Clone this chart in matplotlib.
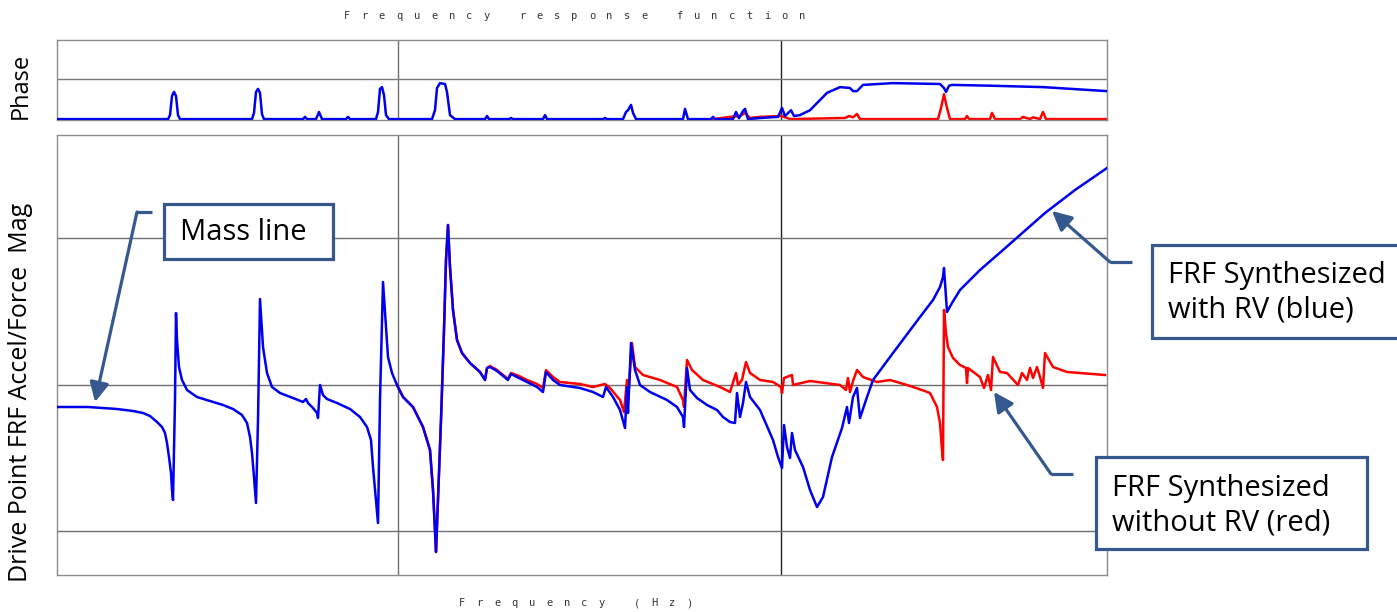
import matplotlib
matplotlib.use('Agg')
import matplotlib.pyplot as plt
from matplotlib.patches import Rectangle, FancyArrowPatch
from matplotlib.lines import Line2D

# frequency axis in Hz (arbitrary span 0..1050), magnitude/phase
# blue = FRF synthesized with RV, red = without RV
# (freq, value) pairs

mag_blue_pts = [
    (0, -22), (31, -22), (60, -24), (76, -26), (86, -28), (93, -31), (100, -37), (105, -42), (108, -48),
    (110, -58), (112, -72), (114, -88), (115, -105), (116, -115), (118, -15), (119, 72), (120, 45), (122, 18),
    (125, 5), (130, -5), (140, -12), (153, -16), (166, -20), (176, -24), (185, -30), (190, -38), (193, -52),
    (195, -68), (197, -92), (199, -118), (201, -35), (203, 86), (206, 38), (210, 12), (215, -2), (223, -8),
    (236, -13), (246, -17), (249, -14), (251, -18), (256, -23), (260, -28), (261, -33), (263, 0), (266, -10),
    (270, -14), (280, -18), (293, -24), (303, -32), (310, -42), (314, -55), (316, -82), (319, -115),
    (321, -138), (323, -15), (326, 103), (329, 58), (331, 28), (335, 12), (340, 0), (346, -12), (356, -22),
    (361, -32), (366, -42), (373, -65), (376, -105), (378, -145), (379, -167), (381, -115), (384, -35),
    (387, 55), (389, 125), (391, 160), (393, 118), (396, 75), (400, 45), (405, 32), (413, 22), (423, 13),
    (428, 5), (430, 17), (433, 18), (440, 14), (451, 5), (454, 11), (462, 7), (470, 3), (480, -2), (486, -7),
    (489, 13), (496, 5), (503, 0), (523, -3), (536, -7), (546, -12), (549, -2), (556, -12), (563, -25),
    (568, -43), (570, -2), (571, -28), (574, 42), (578, 15), (583, 0), (593, -7), (610, -15), (620, -22),
    (626, -32), (627, -42), (630, 17), (633, -5), (640, -13), (650, -20), (660, -25), (666, -32), (673, -37),
    (678, -38), (680, -8), (683, -32), (686, -18), (689, 3), (693, -12), (703, -25), (716, -55), (721, -72),
    (725, -83), (727, -40), (730, -62), (733, -73), (735, -48), (738, -65), (746, -82), (753, -105),
    (760, -122), (766, -112), (775, -72), (785, -43), (790, -22), (792, -38), (796, -12), (800, -3),
    (803, -33), (810, -12), (816, 5), (836, 32), (863, 68), (876, 85), (883, 98), (886, 108), (887, 117),
    (889, 88), (890, 73), (895, 82), (903, 95), (923, 115), (946, 135), (988, 172), (1018, 195), (1050, 217),
]

mag_red_pts = [
    (340, 0), (346, -12), (356, -22), (361, -32), (366, -42), (373, -65), (376, -105), (378, -145),
    (379, -167), (381, -115), (384, -35), (387, 55), (389, 125), (391, 160), (393, 118), (396, 75), (400, 45),
    (405, 32), (413, 22), (423, 13), (428, 5), (430, 17), (433, 19), (440, 15), (451, 6), (454, 12), (462, 9),
    (470, 5), (480, 1), (486, -3), (489, 15), (496, 8), (503, 3), (523, 1), (536, -2), (548, 1), (553, -3),
    (563, -15), (567, -27), (570, 5), (571, -15), (575, 42), (578, 18), (586, 10), (603, 5), (620, -2),
    (626, -15), (627, -22), (630, 25), (635, 15), (646, 5), (663, -2), (673, -7), (679, 12), (681, 0),
    (685, 5), (689, 23), (693, 12), (703, 5), (716, 3), (724, -2), (725, -8), (727, 7), (735, 10), (736, 0),
    (753, 4), (783, 0), (789, -5), (791, 7), (793, -7), (796, 4), (800, 15), (806, 8), (820, 3), (833, 5),
    (850, 0), (865, -5), (873, -8), (880, -22), (883, -38), (885, -65), (886, -75), (887, 75), (889, 52),
    (891, 38), (896, 27), (903, 20), (909, 17), (910, 2), (911, 17), (923, 8), (927, -3), (931, 10),
    (934, -5), (936, 28), (943, 13), (950, 12), (961, 0), (965, 12), (970, 5), (973, 17), (976, 7), (980, 18),
    (983, 8), (986, -3), (988, 32), (996, 18), (1010, 13), (1048, 10),
]

# phase in degrees
ph_blue_pts = [
    (0, 2), (111, 2), (113, 11), (115, 54), (117, 63), (119, 54), (121, 11), (123, 2), (195, 2), (197, 16),
    (199, 63), (201, 70), (203, 61), (205, 13), (207, 2), (246, 2), (248, 7), (250, 2), (259, 2), (262, 18),
    (265, 2), (289, 2), (291, 7), (293, 2), (319, 2), (321, 18), (323, 70), (325, 74), (327, 56), (329, 11),
    (332, 2), (375, 2), (378, 22), (380, 72), (383, 83), (388, 81), (390, 63), (393, 11), (398, 2), (428, 2),
    (430, 9), (432, 2), (452, 2), (454, 4.5), (456, 2), (486, 2), (488, 11), (490, 2), (546, 2), (548, 4.5),
    (550, 2), (566, 2), (569, 18), (571, 22), (574, 34), (576, 16), (579, 2), (626, 2), (628, 25), (631, 2),
    (654, 2), (656, 7), (658, 2), (676, 2), (679, 18), (682, 4), (686, 20), (688, 25), (691, 2), (703, 4.5),
    (721, 7), (725, 27), (728, 9), (734, 22), (737, 9), (743, 11), (753, 22), (770, 61), (783, 74), (793, 72),
    (796, 65), (800, 65), (806, 79), (836, 83), (883, 81), (887, 72), (889, 63), (892, 77), (895, 79),
    (936, 77), (986, 74), (1050, 65),
]

ph_red_pts = [
    (656, 2), (673, 7), (683, 9), (688, 16), (693, 4.5), (703, 7), (725, 9), (733, 2), (788, 4.5), (792, 9),
    (796, 6), (800, 13.5), (803, 2), (881, 2), (884, 27), (887, 58), (890, 27), (893, 2), (908, 2), (910, 9),
    (912, 2), (933, 2), (935, 16), (938, 2), (963, 2), (966, 7), (973, 2), (976, 6), (983, 2), (986, 18),
    (989, 2), (1050, 2),
]

mag_grid = [-146, 0, 147]
phase_grid = 92
freq_grid = [341, 724]

title_txt = 'Frequency response function'
xlabel_txt = 'Frequency (Hz)'
W, H = 1397, 612


def fx(px):
    return px / W


def fy(py):
    return 1 - py / H


fig = plt.figure(figsize=(W / 100, H / 100), dpi=100)
ax_ph = fig.add_axes([fx(57), fy(120), 1050 / W, 80 / H])
ax_mag = fig.add_axes([fx(57), fy(575), 1050 / W, 440 / H])

for ax in (ax_ph, ax_mag):
    ax.set_xlim(0, 1050)
    ax.set_xticks([])
    ax.set_yticks([])
    for s in ax.spines.values():
        s.set_color('#8c8c8c')
        s.set_linewidth(1.0)
    ax.axvline(freq_grid[0], color='#6e6e6e', lw=1.0, zorder=1)
    ax.axvline(freq_grid[1], color='#222222', lw=1.0, zorder=1)

ax_ph.set_ylim(0, 180)
ax_ph.axhline(phase_grid, color='#7a7a7a', lw=1.0, zorder=1)
ax_ph.plot(*zip(*ph_red_pts), color='#ff0000', lw=1.8, zorder=2)
ax_ph.plot(*zip(*ph_blue_pts), color='#0000ee', lw=1.8, zorder=3)

ax_mag.set_ylim(-190, 250)
for g in mag_grid:
    ax_mag.axhline(g, color='#6e6e6e', lw=1.0, zorder=1)
ax_mag.plot(*zip(*mag_red_pts), color='#ff0000', lw=1.8, zorder=2)
ax_mag.plot(*zip(*mag_blue_pts), color='#0000ee', lw=1.8, zorder=3)

# spaced-out monospace captions
for i, ch in enumerate(title_txt):
    fig.text(fx(347 + i * 17.5), fy(16), ch, ha='center', va='center', fontsize=7.5,
             family='DejaVu Sans Mono', color='#333333')
for i, ch in enumerate(xlabel_txt):
    fig.text(fx(462 + i * 17.5), fy(603), ch, ha='center', va='center', fontsize=7.5,
             family='DejaVu Sans Mono', color='#333333')

fig.text(fx(21), fy(86), 'Phase', rotation=90, ha='center', va='center', fontsize=17, family='Open Sans')
fig.text(fx(21), fy(392), 'Drive Point FRF Accel/Force  Mag', rotation=90, ha='center', va='center',
         fontsize=18, family='Open Sans')

# callouts
box_col = '#35598f'


def callout(x0, y0, x1, y1, lines, tx, ty, arrow_pts):
    fig.add_artist(Rectangle((fx(x0), fy(y1)), (x1 - x0) / W, (y1 - y0) / H, transform=fig.transFigure,
                             fill=True, facecolor='white', edgecolor=box_col, lw=2.3, clip_on=False, zorder=5))
    fig.text(fx(tx), fy(ty), lines, ha='left', va='center', fontsize=21, family='Open Sans',
             linespacing=1.25, zorder=6)
    (ax_, ay_), (bx, by), (cx, cy) = arrow_pts
    fig.add_artist(Line2D([fx(ax_), fx(bx)], [fy(ay_), fy(by)], transform=fig.transFigure, color=box_col,
                          lw=2.3, solid_capstyle='butt'))
    fig.add_artist(FancyArrowPatch((fx(bx), fy(by)), (fx(cx), fy(cy)), transform=fig.transFigure,
                                   arrowstyle='-|>,head_length=0.9,head_width=0.45', mutation_scale=13,
                                   color=box_col, lw=2.3, shrinkA=0, shrinkB=0))


callout(164, 204, 333, 259, 'Mass line', 180, 232, [(152, 212), (137, 212), (95, 402)])
callout(1152, 245, 1420, 338, 'FRF Synthesized\nwith RV (blue)', 1168, 293,
        [(1132, 262), (1110, 262), (1052, 211)])
callout(1096, 457, 1367, 549, 'FRF Synthesized\nwithout RV (red)', 1112, 506,
        [(1073, 474), (1051, 474), (994, 392)])

fig.savefig('out.png', dpi=100)
